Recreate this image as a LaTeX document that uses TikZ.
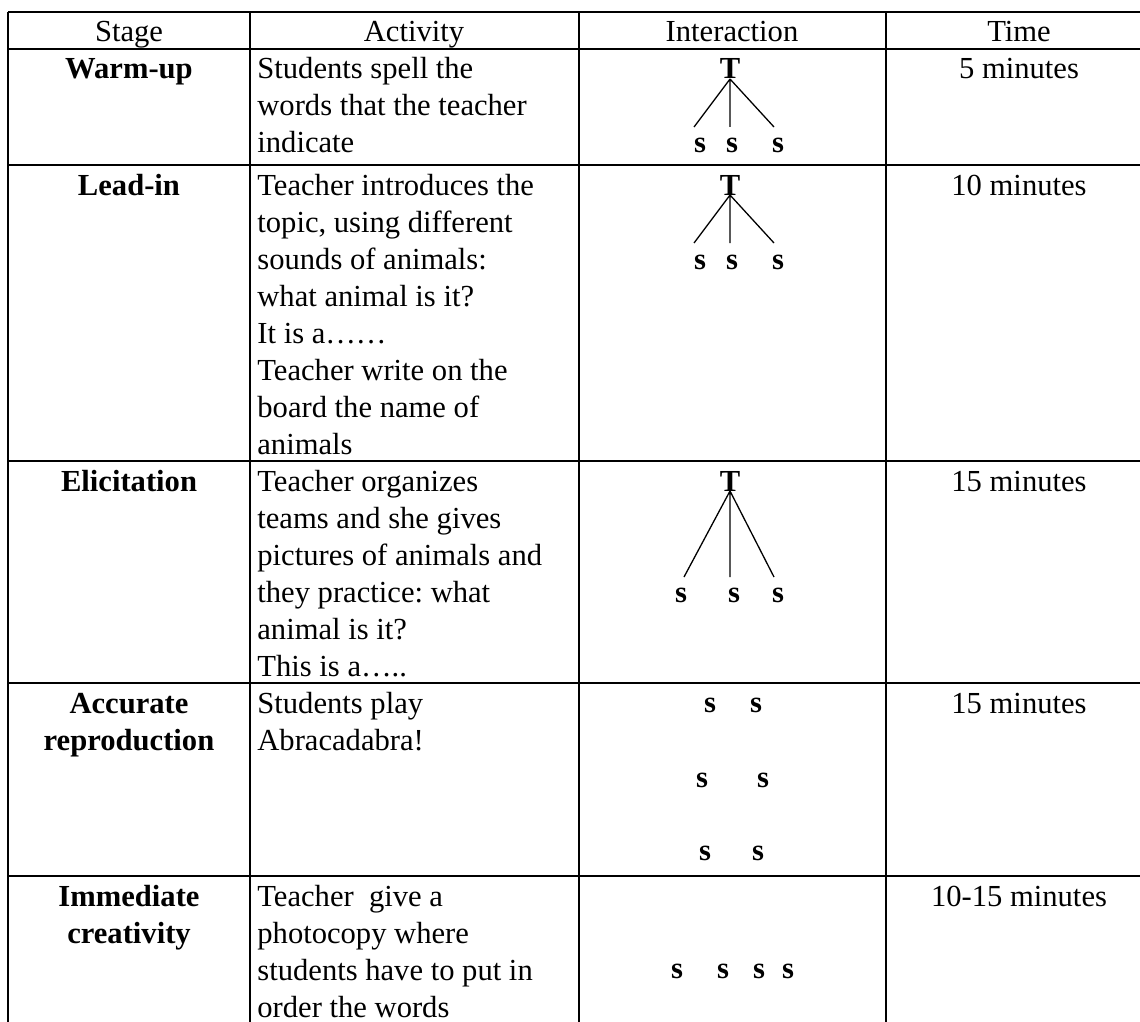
\documentclass[tikz,border=0pt]{standalone}
\usepackage{fontspec}
\setmainfont{Liberation Serif}
\frenchspacing
\tikzset{
  txt/.style={inner sep=0pt, font=\fontsize{15.3}{18.5}\selectfont},
  cell/.style={txt, anchor=base west},
  head/.style={txt, anchor=base},
  stage/.style={head, font=\fontsize{15.3}{18.5}\selectfont\bfseries},
  pupil/.style={stage},
  rule/.style={line width=0.75pt},
  link/.style={line width=0.65pt}
}
\newcommand\actlines[3]{%
  \foreach \ln [count=\i from 0] in {#3}
    \node[cell] (#1-\i) at (257,{#2+37*\i}) {\ln};}
\begin{document}
\begin{tikzpicture}[x=0.5pt,y=-0.5pt]
  \useasboundingbox (0,0) rectangle (1140,1022);
  \foreach \y in {12,49,165,461,683,876}
    \draw[rule] (8,\y) -- (1140,\y);
  \foreach \x in {8,250,579,886}
    \draw[rule] (\x,12) -- (\x,1022);
  \node[head] (h1) at (129,42) {Stage};
  \node[head] (h2) at (414,42) {Activity};
  \node[head] (h3) at (732,42) {Interaction};
  \node[head] (h4) at (1019,42) {Time};
  \node[stage] (st1) at (129,79) {Warm-up};
  \node[stage] (st2) at (129,195) {Lead-in};
  \node[stage] (st3) at (129,491) {Elicitation};
  \node[stage] (st4) at (129,713) {Accurate};
  \node[stage] (st4b) at (129,750) {reproduction};
  \node[stage] (st5) at (129,906) {Immediate};
  \node[stage] (st5b) at (129,943) {creativity};
  \actlines{a1}{79}{Students spell the, words that the teacher, indicate}
  \actlines{a2}{195}{Teacher introduces the, {topic, using different}, sounds of animals:,
    what animal is it?, It is a……, Teacher write on the, board the name of, animals}
  \actlines{a3}{491}{Teacher organizes, teams and she gives, pictures of animals and,
    they practice: what, animal is it?, This is a…..}
  \actlines{a4}{713}{Students play, Abracadabra!}
  \actlines{a5}{906}{Teacher~ give a, photocopy where, students have to put in, order the words}
  \node[head] (tm1) at (1019,79) {5 minutes};
  \node[head] (tm2) at (1019,195) {10 minutes};
  \node[head] (tm3) at (1019,491) {15 minutes};
  \node[head] (tm4) at (1019,713) {15 minutes};
  \node[head] (tm5) at (1019,906) {10-15 minutes};
  % teacher to students
  \node[stage] (t1) at (730,79) {T};
  \coordinate (f1a) at (694,127);
  \coordinate (f1b) at (730,127);
  \coordinate (f1c) at (774,127);
  \draw[link] (t1.base) -- (f1a) (t1.base) -- (f1b) (t1.base) -- (f1c);
  \node[pupil] (s1a) at (700,153) {s};
  \node[pupil] (s1b) at (732,153) {s};
  \node[pupil] (s1c) at (778,153) {s};
  \node[stage] (t2) at (730,195) {T};
  \coordinate (f2a) at (694,243);
  \coordinate (f2b) at (730,243);
  \coordinate (f2c) at (774,243);
  \draw[link] (t2.base) -- (f2a) (t2.base) -- (f2b) (t2.base) -- (f2c);
  \node[pupil] (s2a) at (700,269) {s};
  \node[pupil] (s2b) at (732,269) {s};
  \node[pupil] (s2c) at (778,269) {s};
  \node[stage] (t3) at (730,491) {T};
  \coordinate (f3a) at (684,577);
  \coordinate (f3b) at (730,577);
  \coordinate (f3c) at (774,577);
  \draw[link] (t3.base) -- (f3a) (t3.base) -- (f3b) (t3.base) -- (f3c);
  \node[pupil] (s3a) at (681,602) {s};
  \node[pupil] (s3b) at (734,602) {s};
  \node[pupil] (s3c) at (778,602) {s};
  % pairs
  \node[pupil] (p1a) at (710,712) {s};
  \node[pupil] (p1b) at (756,712) {s};
  \node[pupil] (p2a) at (702,787) {s};
  \node[pupil] (p2b) at (763,787) {s};
  \node[pupil] (p3a) at (705,860) {s};
  \node[pupil] (p3b) at (758,860) {s};
  % group
  \node[pupil] (g1) at (677,978) {s};
  \node[pupil] (g2) at (723,978) {s};
  \node[pupil] (g3) at (759,978) {s};
  \node[pupil] (g4) at (788,978) {s};
\end{tikzpicture}
\end{document}
